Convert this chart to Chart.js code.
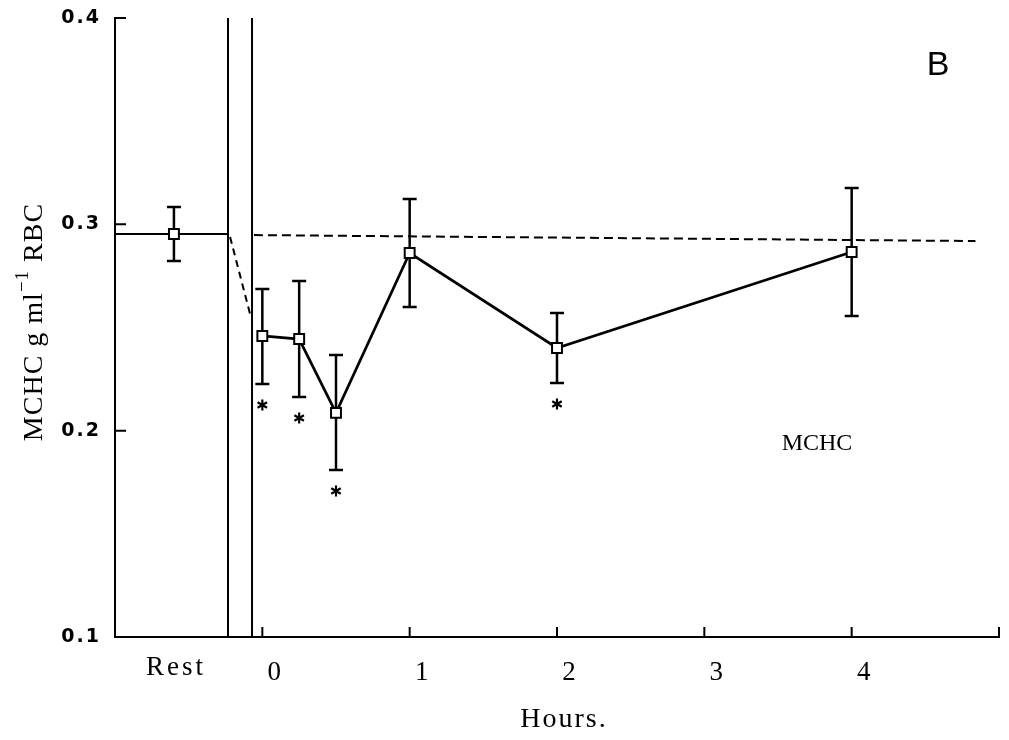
<!DOCTYPE html>
<html>
<head>
<meta charset="utf-8">
<script src="https://cdn.jsdelivr.net/npm/chart.js@4.4.0/dist/chart.umd.min.js"></script>
<style>
    html, body { margin: 0; padding: 0; background: #fff; }
</style>
</head>
<body>
<canvas id="MchcChart" width="1009" height="740"></canvas>
<script>
// resting value (drawn left of the exercise period)
const restHour = -0.6;
const restMean = 0.2953;
const restHi = 0.3084;
const restLo = 0.2822;

// recovery samples
const hours = [0, 0.25, 0.5, 1, 2, 4];
const mchc = [0.2459, 0.2444, 0.2086, 0.2861, 0.2401, 0.2866];
const errHi = [0.2687, 0.2725, 0.2367, 0.3123, 0.2570, 0.3176];
const errLo = [0.2226, 0.2163, 0.1809, 0.2599, 0.2231, 0.2556];
const signif = [true, true, true, false, true, false];

// reference lines
const baseline = [{ x: -0.057, y: 0.2948 }, { x: 4.84, y: 0.2919 }];
const dropLine = [{ x: -0.219, y: 0.2939 }, { x: -0.083, y: 0.2565 }];
const barriers = [-0.233, -0.07];

const xTicks = [0, 1, 2, 3, 4, 5];
const xTickLabels = ['0', '1', '2', '3', '4', ''];
const yTicks = [0.1, 0.2, 0.3, 0.4];

function star(ctx, x, y, r) {
    ctx.beginPath();
    for (let k = 0; k < 3; k++) {
        const a = Math.PI / 2 + k * Math.PI / 3;
        ctx.moveTo(x + r * Math.cos(a), y + r * Math.sin(a));
        ctx.lineTo(x - r * Math.cos(a), y - r * Math.sin(a));
    }
    ctx.stroke();
}

function errorBar(ctx, xs, ys, hi, lo) {
    const px = xs.getPixelForValue(hi.x);
    const top = ys.getPixelForValue(hi.y);
    const bot = ys.getPixelForValue(lo);
    ctx.beginPath();
    ctx.moveTo(px, top); ctx.lineTo(px, bot);
    ctx.moveTo(px - 7, top); ctx.lineTo(px + 7, top);
    ctx.moveTo(px - 7, bot); ctx.lineTo(px + 7, bot);
    ctx.stroke();
}

const decorations = {
    id: 'decorations',
    beforeDatasetsDraw(chart) {
        const ctx = chart.ctx;
        const xs = chart.scales.x, ys = chart.scales.y;
        ctx.save();
        ctx.strokeStyle = '#000';
        ctx.lineWidth = 2.5;
        errorBar(ctx, xs, ys, { x: restHour, y: restHi }, restLo);
        hours.forEach((h, i) => errorBar(ctx, xs, ys, { x: h, y: errHi[i] }, errLo[i]));
        ctx.restore();
    },
    afterDraw(chart) {
        const ctx = chart.ctx;
        const xs = chart.scales.x, ys = chart.scales.y;
        const area = chart.chartArea;
        ctx.save();
        ctx.strokeStyle = '#000';
        ctx.fillStyle = '#000';

        // inward ticks
        ctx.lineWidth = 2;
        ctx.beginPath();
        yTicks.forEach(v => {
            const py = ys.getPixelForValue(v);
            ctx.moveTo(area.left, py); ctx.lineTo(area.left + 11, py);
        });
        xTicks.forEach(v => {
            const px = xs.getPixelForValue(v);
            ctx.moveTo(px, area.bottom); ctx.lineTo(px, area.bottom - 10);
        });
        ctx.stroke();

        // y tick labels
        ctx.font = 'bold 19px "DejaVu Sans"';
        ctx.letterSpacing = '2px';
        ctx.textAlign = 'right';
        ctx.textBaseline = 'middle';
        yTicks.forEach(v => ctx.fillText(v.toFixed(1), 101, ys.getPixelForValue(v)));

        // x tick labels
        ctx.font = '27px "Liberation Serif"';
        ctx.textAlign = 'center';
        ctx.letterSpacing = '3px';
        ctx.fillText('Rest', xs.getPixelForValue(restHour) + 2, area.bottom + 31);
        ctx.letterSpacing = '0px';
        xTicks.forEach((v, i) => ctx.fillText(xTickLabels[i], xs.getPixelForValue(v) + 12, area.bottom + 36));

        // x title
        ctx.font = '28px "Liberation Serif"';
        ctx.letterSpacing = '2px';
        ctx.fillText('Hours.', 564, 720);

        // y title with superscript
        ctx.save();
        ctx.translate(32, 322);
        ctx.rotate(-Math.PI / 2);
        ctx.letterSpacing = '1px';
        ctx.textAlign = 'left';
        ctx.textBaseline = 'alphabetic';
        const big = '28px "Liberation Serif"', small = '19px "Liberation Serif"';
        ctx.font = big;
        const w1 = ctx.measureText('MCHC g ml').width;
        const w3 = ctx.measureText(' RBC').width;
        ctx.font = small;
        const w2 = ctx.measureText('\u22121').width;
        let x0 = -(w1 + w2 + w3) / 2;
        ctx.font = big;
        ctx.fillText('MCHC g ml', x0, 10);
        ctx.font = small;
        ctx.fillText('\u22121', x0 + w1, -4);
        ctx.font = big;
        ctx.fillText(' RBC', x0 + w1 + w2, 10);
        ctx.restore();

        // panel letter and series label
        ctx.letterSpacing = '0px';
        ctx.font = '34px "Liberation Sans"';
        ctx.fillText('B', 938, 66);
        ctx.font = '24px "Liberation Serif"';
        ctx.fillText('MCHC', 817, 444);

        // significance marks
        ctx.lineWidth = 2.2;
        hours.forEach((h, i) => {
            if (signif[i]) star(ctx, xs.getPixelForValue(h), ys.getPixelForValue(errLo[i]) + 21, 5.5);
        });
        ctx.restore();
    }
};

const mainPts = hours.map((h, i) => ({ x: h, y: mchc[i] }));
const lineStyle = { showLine: true, pointRadius: 0, borderColor: '#000', borderWidth: 2, tension: 0 };

const ctxM = document.getElementById('MchcChart').getContext('2d');
const MchcChart = new Chart(ctxM, {
    type: 'scatter',
    data: {
        datasets: [
            {
                data: mainPts,
                showLine: true,
                borderColor: '#000',
                borderWidth: 2.7,
                pointStyle: 'rect',
                pointRadius: 7,
                pointBackgroundColor: '#fff',
                pointBorderColor: '#000',
                pointBorderWidth: 2
            },
            {
                data: [{ x: restHour, y: restMean }],
                pointStyle: 'rect',
                pointRadius: 7,
                pointBackgroundColor: '#fff',
                pointBorderColor: '#000',
                pointBorderWidth: 2
            },
            Object.assign({ data: [{ x: -1, y: restMean }, { x: barriers[0], y: restMean }] }, lineStyle),
            Object.assign({ data: baseline, borderDash: [9, 5], borderWidth: 2.3 }, lineStyle),
            Object.assign({ data: dropLine, borderDash: [7, 5], borderWidth: 2.3 }, lineStyle),
            Object.assign({ data: [{ x: barriers[0], y: 0.1 }, { x: barriers[0], y: 0.4 }] }, lineStyle),
            Object.assign({ data: [{ x: barriers[1], y: 0.1 }, { x: barriers[1], y: 0.4 }] }, lineStyle)
        ]
    },
    options: {
        responsive: false,
        animation: false,
        devicePixelRatio: 1,
        layout: { padding: { top: 18, right: 10, left: 0, bottom: 0 } },
        plugins: { legend: { display: false }, tooltip: { enabled: false } },
        scales: {
            x: {
                type: 'linear',
                min: -1,
                max: 5,
                ticks: { display: false },
                grid: { display: false },
                border: { display: true, color: '#000', width: 2 },
                afterFit: s => { s.height = 103; }
            },
            y: {
                min: 0.1,
                max: 0.4,
                ticks: { display: false },
                grid: { display: false },
                border: { display: true, color: '#000', width: 2 },
                afterFit: s => { s.width = 115; }
            }
        }
    },
    plugins: [decorations]
});
</script>
</body>
</html>
